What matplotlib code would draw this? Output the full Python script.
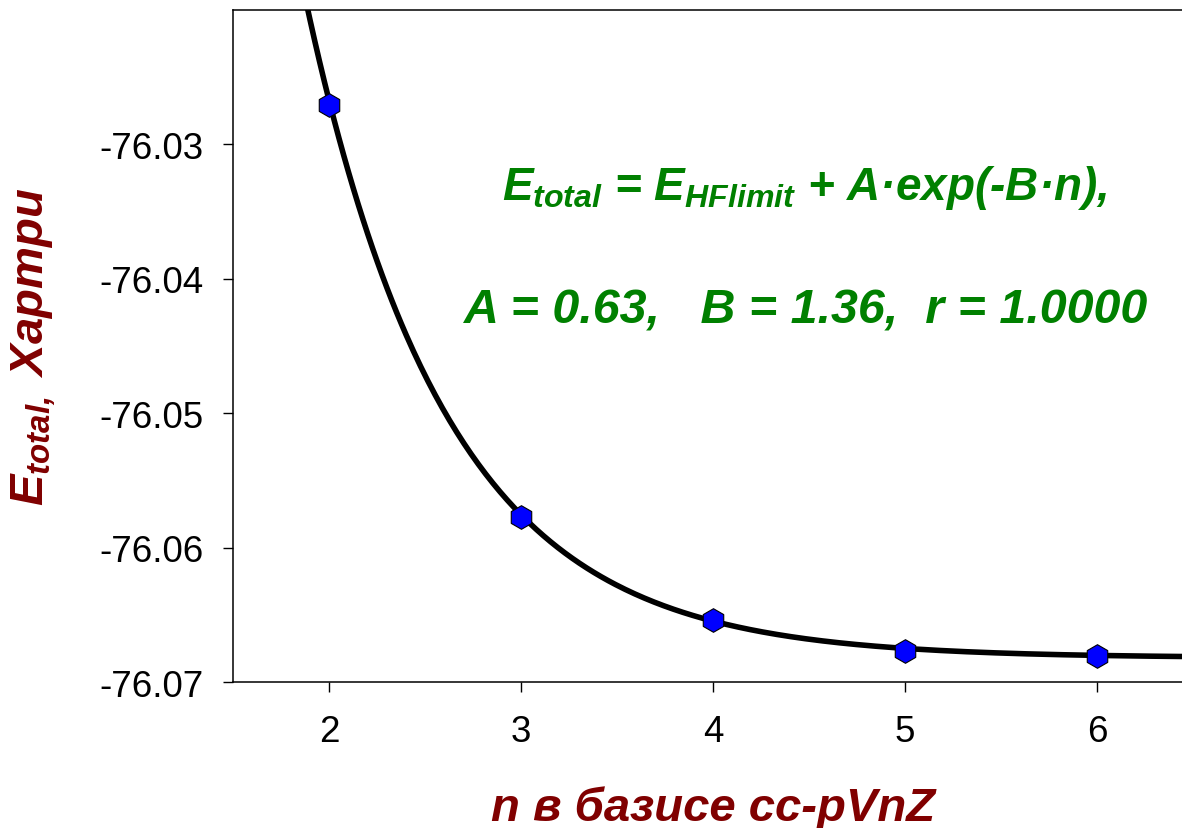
import numpy as np
import matplotlib
matplotlib.use('Agg')
import matplotlib.pyplot as plt

# шрифты: Arial-подобный, жирный курсив для формул
plt.rcParams['font.family'] = ['Liberation Sans', 'DejaVu Sans']
plt.rcParams['mathtext.fontset'] = 'custom'
plt.rcParams['mathtext.rm'] = 'Liberation Sans:italic:bold'
plt.rcParams['mathtext.it'] = 'Liberation Sans:italic:bold'
plt.rcParams['mathtext.bf'] = 'Liberation Sans:italic:bold'

# данные: n базиса cc-pVnZ и полная энергия (Хартри)
n_basis = [2, 3, 4, 5, 6]
e_total = [-76.0271, -76.0577, -76.0654, -76.0677, -76.0681]

# параметры аппроксимации E = E_HF + A*exp(-B*n)
e_hf_limit = -76.0682
a_fit = 0.63
b_fit = 1.36

x_ticks = [2, 3, 4, 5, 6]
y_ticks = [-76.07, -76.06, -76.05, -76.04, -76.03]

dark_red = '#800000'
green = '#008000'

fig = plt.figure(figsize=(11.82, 8.29), dpi=100)
ax = fig.add_axes([0.1971, 0.1761, 0.8122, 0.8106])

n_fit = np.linspace(1.5, 6.5, 400)
e_fit = e_hf_limit + a_fit * np.exp(-b_fit * n_fit)
ax.plot(n_fit, e_fit, color='black', lw=4.0, zorder=2)
ax.plot(n_basis, e_total, linestyle='none', marker='h', markersize=17,
        markerfacecolor='#0000ff', markeredgecolor='black', markeredgewidth=0.8,
        zorder=3)

ax.set_xlim(1.5, 6.5)
ax.set_ylim(-76.07, -76.02)
ax.set_xticks(x_ticks)
ax.set_yticks(y_ticks)
ax.set_yticklabels([f'{v:.2f}' for v in y_ticks])
ax.tick_params(axis='both', direction='out', length=7, width=1.0,
               labelsize=26.5, colors='black')
ax.tick_params(axis='y', pad=14)
ax.tick_params(axis='x', pad=16)
for s in ax.spines.values():
    s.set_linewidth(1.1)

ax.set_xlabel('n в базисе cc-pVnZ', fontsize=34, fontweight='bold',
              fontstyle='italic', color=dark_red, labelpad=26)
ax.set_ylabel(r'$E_{total,}$ Хартри', fontsize=34, fontweight='bold',
              fontstyle='italic', color=dark_red, labelpad=30)

fig.text(0.681, 0.7587, r'$E_{total}$ = $E_{HFlimit}$ + A·exp(-B·n),',
         fontsize=33, fontweight='bold', fontstyle='italic', color=green,
         ha='center', va='baseline')
fig.text(0.682, 0.6095, 'A = 0.63,   B = 1.36,  r = 1.0000',
         fontsize=34.8, fontweight='bold', fontstyle='italic', color=green,
         ha='center', va='baseline')

fig.savefig('out.png', dpi=100)
